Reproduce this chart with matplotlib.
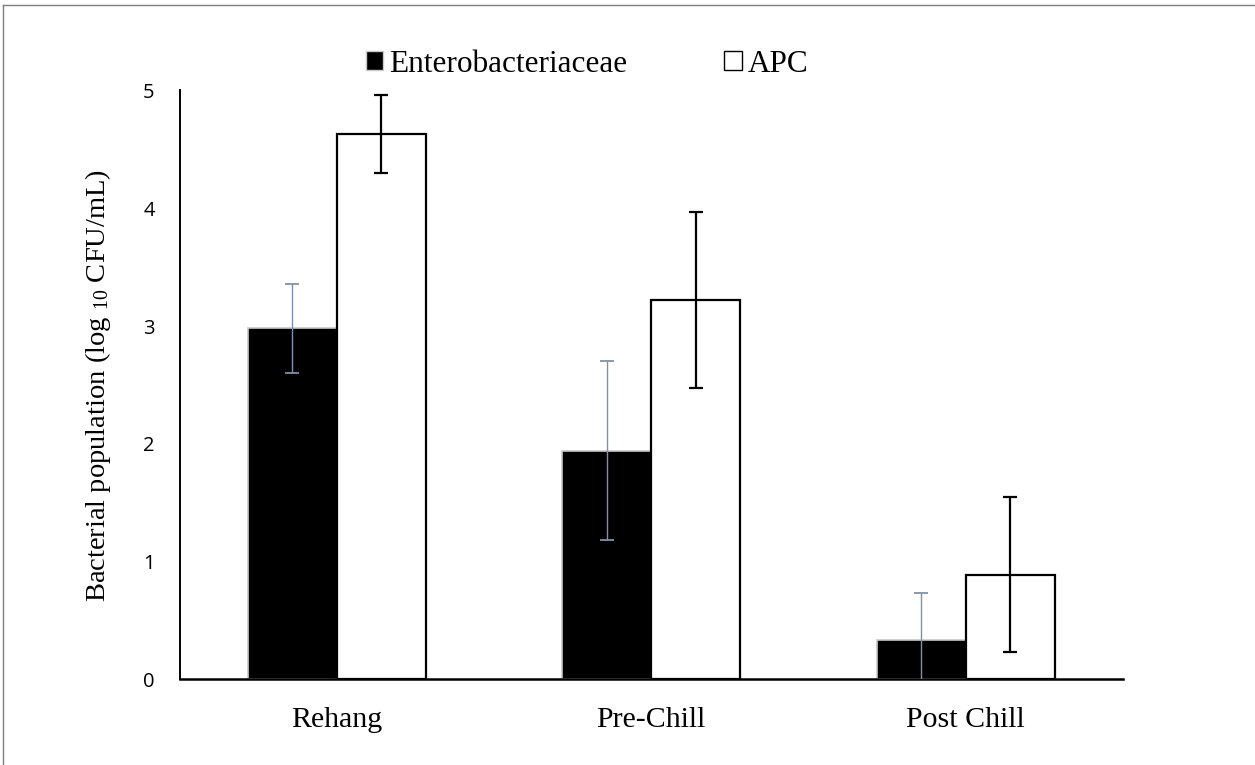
import matplotlib
matplotlib.use("Agg")
import matplotlib.pyplot as plt
import numpy as np
from matplotlib.patches import Patch
from matplotlib.lines import Line2D

categories = ["Rehang", "Pre-Chill", "Post Chill"]
entero = [2.98, 1.94, 0.335]
entero_err = [0.38, 0.76, 0.40]
apc = [4.63, 3.22, 0.89]
apc_err = [0.33, 0.745, 0.655]
yticks = [0, 1, 2, 3, 4, 5]

serif = ["Liberation Serif", "DejaVu Serif"]
plt.rcParams["mathtext.fontset"] = "custom"
plt.rcParams["mathtext.rm"] = "Liberation Serif"
plt.rcParams["mathtext.it"] = "Liberation Serif"

fig = plt.figure(figsize=(12.55, 7.65), dpi=100)
ax = fig.add_axes([0.1432, 0.1118, 0.7515, 0.7699])

x = np.arange(len(categories))
w = 0.283
ax.bar(x - w / 2, entero, width=w, color="black", edgecolor="#c8c8c8", linewidth=1.2, zorder=2)
ax.bar(x + w / 2, apc, width=w, color="white", edgecolor="black", linewidth=1.6, zorder=2)
ax.errorbar(x - w / 2, entero, yerr=entero_err, fmt="none", ecolor="#8090aa",
            elinewidth=1.0, capsize=5, capthick=1.3, zorder=3)
ax.errorbar(x + w / 2, apc, yerr=apc_err, fmt="none", ecolor="black",
            elinewidth=1.6, capsize=5, capthick=1.6, zorder=3)

ax.set_xlim(-0.5, 2.5)
ax.set_ylim(0, 5)
ax.set_yticks(yticks)
ax.set_yticklabels([str(t) for t in yticks], fontfamily="Open Sans", fontsize=14.5)
ax.set_xticks(x)
ax.set_xticklabels(categories, fontfamily=serif, fontsize=21.5)
ax.tick_params(axis="y", length=0, pad=18)
ax.tick_params(axis="x", length=0, pad=20)
for s in ["top", "right"]:
    ax.spines[s].set_visible(False)
ax.spines["left"].set_linewidth(1.4)
ax.spines["bottom"].set_linewidth(1.8)

ax.set_ylabel("Bacterial population (log $_{\\mathregular{10}}$ CFU/mL)", fontfamily=serif,
              fontsize=20.5, labelpad=22)

handles = [Patch(facecolor="black", edgecolor="#c8c8c8", linewidth=1.0),
           Patch(facecolor="white", edgecolor="black", linewidth=1.0)]
fig.legend(handles, ["Enterobacteriaceae", "APC"], loc="center", bbox_to_anchor=(0.468, 0.916),
           ncol=2, frameon=False, prop={"family": serif, "size": 22.5},
           handlelength=0.55, handleheight=0.55, handletextpad=0.2, columnspacing=3.1)

fig.add_artist(Line2D([0.0025, 1.0], [0.9935, 0.9935], color="#7f7f7f", linewidth=1.0))
fig.add_artist(Line2D([0.0025, 0.0025], [0.0, 0.9935], color="#7f7f7f", linewidth=1.0))

fig.savefig("out.png", dpi=100)
